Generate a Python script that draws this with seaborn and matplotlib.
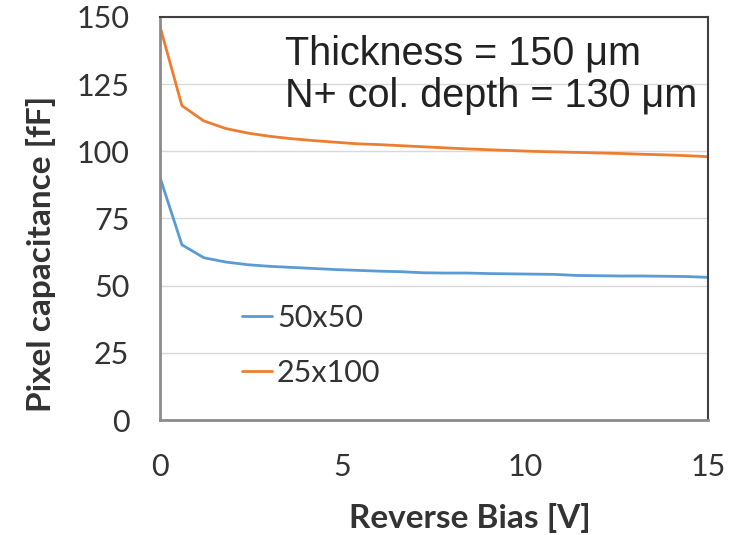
import matplotlib
matplotlib.use("Agg")
import matplotlib.pyplot as plt
import pandas as pd
import seaborn as sns
from matplotlib.ticker import MultipleLocator

# reverse bias steps [V]
bias = [0.0, 0.6, 1.2, 1.8, 2.4, 3.0, 3.6, 4.2, 4.8, 5.4, 6.0, 6.6, 7.2,
        7.8, 8.4, 9.0, 9.6, 10.2, 10.8, 11.4, 12.0, 12.6, 13.2, 13.8, 14.4, 15.0]
# pixel capacitance [fF]
cap_50x50 = [90.3, 65.2, 60.4, 58.8, 57.8, 57.2, 56.8, 56.4, 56.0, 55.7, 55.4, 55.2, 54.8,
             54.7, 54.7, 54.5, 54.4, 54.3, 54.2, 53.8, 53.7, 53.6, 53.6, 53.5, 53.4, 53.1]
cap_25x100 = [146.5, 117.0, 111.3, 108.5, 106.8, 105.6, 104.7, 104.0, 103.4, 102.8, 102.5, 102.1, 101.7,
              101.3, 100.9, 100.6, 100.3, 100.0, 99.8, 99.6, 99.4, 99.2, 98.9, 98.7, 98.4, 98.0]
pixel_labels = ["50x50", "25x100"]
colors = ["#5B9BD5", "#ED7D31"]

df = pd.concat([
    pd.DataFrame({"bias": bias, "cap": cap_50x50, "pixel": pixel_labels[0]}),
    pd.DataFrame({"bias": bias, "cap": cap_25x100, "pixel": pixel_labels[1]}),
])

sns.set_theme(style="white")
plt.rcParams["font.family"] = ["Lato", "DejaVu Sans"]

fig = plt.figure(figsize=(7.35, 5.35), dpi=100)
ax = fig.add_axes([160 / 735, 115 / 535, 548 / 735, 403 / 535])

sns.lineplot(data=df, x="bias", y="cap", hue="pixel", palette=colors,
             linewidth=2.0, ax=ax)

ax.set_xlim(0, 15)
ax.set_ylim(0, 150)
ax.xaxis.set_major_locator(MultipleLocator(5))
ax.xaxis.set_minor_locator(MultipleLocator(1))
ax.yaxis.set_major_locator(MultipleLocator(25))
ax.yaxis.set_minor_locator(MultipleLocator(5))
ax.grid(axis="y", which="major", color="#d9d9d9", linewidth=1.0)
ax.set_axisbelow(True)

ax.tick_params(which="both", direction="in", color="#999999", labelsize=22,
               labelcolor="#333333")
ax.tick_params(which="major", length=5, width=1)
ax.tick_params(which="minor", length=4, width=1)
ax.tick_params(axis="x", pad=24)
ax.tick_params(axis="y", pad=22)

for side in ["left", "bottom"]:
    ax.spines[side].set_color("#8c8c8c")
    ax.spines[side].set_linewidth(2)
for side in ["top", "right"]:
    ax.spines[side].set_color("#404040")
    ax.spines[side].set_linewidth(1.5)

ax.set_xlabel("Reverse Bias [V]", fontsize=24, fontweight="bold", color="#333333")
ax.set_ylabel("Pixel capacitance [fF]", fontsize=24, fontweight="bold", color="#333333")
ax.xaxis.set_label_coords(0.566, -0.205)
ax.yaxis.set_label_coords(-0.19, 0.413)

leg = ax.legend(loc="upper left", bbox_to_anchor=(0.127, 0.318), frameon=False,
                fontsize=22, handlelength=1.0, handletextpad=0.15, labelspacing=0.88,
                borderaxespad=0)
for t in leg.get_texts():
    t.set_color("#333333")

fig.text(285 / 735, 1 - 65 / 535, "Thickness = 150 \u03bcm", fontsize=28.5,
         family="Liberation Sans", color="#222222", va="baseline")
fig.text(285 / 735, 1 - 107 / 535, "N+ col. depth = 130 \u03bcm", fontsize=28.5,
         family="Liberation Sans", color="#222222", va="baseline")

fig.savefig("out.png", dpi=100)
